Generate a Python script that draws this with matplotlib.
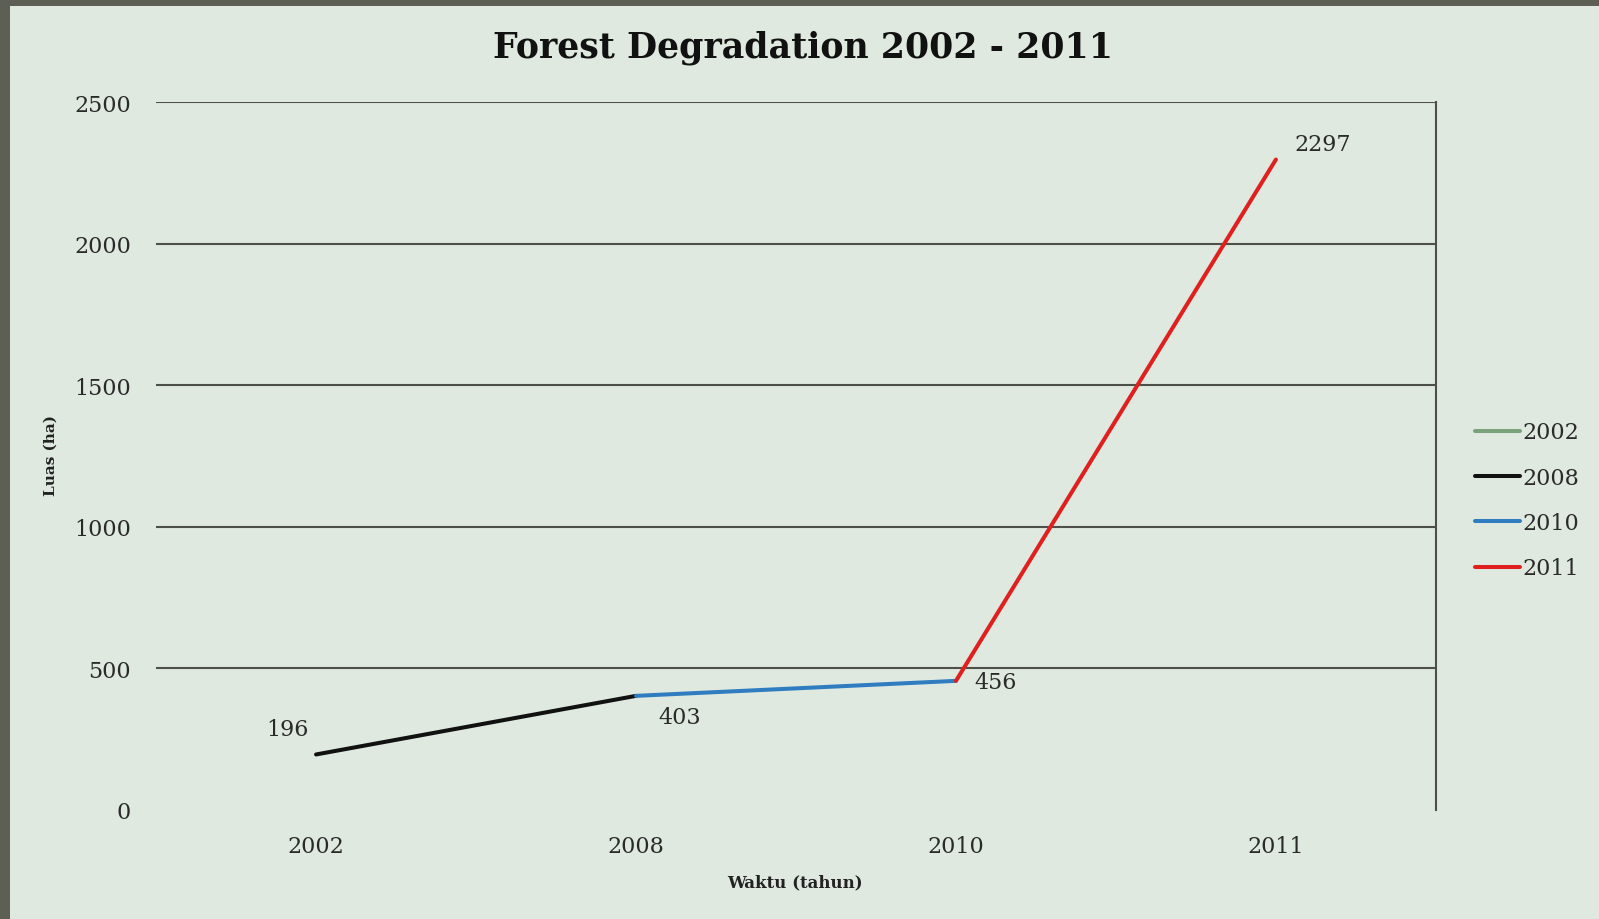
import numpy as np
import matplotlib
matplotlib.use("Agg")
import matplotlib.pyplot as plt
from matplotlib.patches import Rectangle

# data
years = ["2002", "2008", "2010", "2011"]
s2002 = [196, np.nan, np.nan, np.nan]
s2008 = [196, 403, np.nan, np.nan]
s2010 = [np.nan, 403, 456, np.nan]
s2011 = [np.nan, np.nan, 456, 2297]
point_labels = [196, 403, 456, 2297]

series_names = ["2002", "2008", "2010", "2011"]
series_colors = ["#7aa37c", "#111111", "#2f7dc0", "#e0201e"]

plt.rcParams["font.family"] = "DejaVu Serif"

bg = "#dfe9df"
fig = plt.figure(figsize=(15.99, 9.20), dpi=100, facecolor="#5e5f54")
# light card over dark frame (screenshot border)
fig.patches.append(Rectangle((10 / 1599, 0), 1 - 10 / 1599, 1 - 7 / 920,
                             transform=fig.transFigure, facecolor=bg,
                             edgecolor="none", zorder=-10))

ax = fig.add_axes([0.0976, 0.1185, 0.8004, 0.7695])
ax.set_facecolor(bg)
ax.set_zorder(1)

x = np.arange(len(years))
lines = []
for vals, name, col in zip([s2002, s2008, s2010, s2011], series_names, series_colors):
    ln, = ax.plot(x, vals, color=col, lw=2.9, label=name, solid_capstyle="round")
    lines.append(ln)

ax.set_xlim(-0.5, 3.5)
ax.set_ylim(0, 2500)
ax.set_yticks(np.arange(0, 2501, 500))
ax.set_xticks(x)
ax.set_xticklabels(years)
ax.yaxis.grid(True, color="#4d4f4a", lw=1.5)
ax.get_ygridlines()[0].set_visible(False)  # no line at 0
ax.set_axisbelow(True)
ax.tick_params(length=0, labelsize=16, colors="#2a2a2a")
ax.tick_params(axis="y", pad=18)
ax.tick_params(axis="x", pad=18)
for s in ["left", "bottom", "top"]:
    ax.spines[s].set_visible(False)
ax.spines["right"].set_color("#4d4f4a")
ax.spines["right"].set_linewidth(1.5)

# data labels
offsets = [(-29, 25), (44, -21), (40, -1), (47, 16)]
for xi, v, off in zip(x, point_labels, offsets):
    ax.annotate(str(v), (xi, v), xytext=off, textcoords="offset pixels",
                ha="center", va="center", fontsize=16, color="#2a2a2a")

fig.text(803 / 1599, 1 - 48 / 920, "Forest Degradation 2002 - 2011",
         ha="center", va="center", fontsize=25, fontweight="bold", color="#111111")
fig.text(51 / 1599, 1 - 456 / 920, "Luas (ha)", rotation=90,
         ha="center", va="center", fontsize=11, fontweight="bold", color="#222222")
fig.text(795 / 1599, 1 - 883 / 920, "Waktu (tahun)",
         ha="center", va="center", fontsize=12, fontweight="bold", color="#222222")

fig.legend(handles=lines, loc="center left", bbox_to_anchor=(0.91, 0.455),
           frameon=False, fontsize=16, handlelength=2.0, handletextpad=0.15,
           labelspacing=1.05, labelcolor="#2a2a2a")

fig.savefig("out.png", dpi=100, facecolor=fig.get_facecolor())
